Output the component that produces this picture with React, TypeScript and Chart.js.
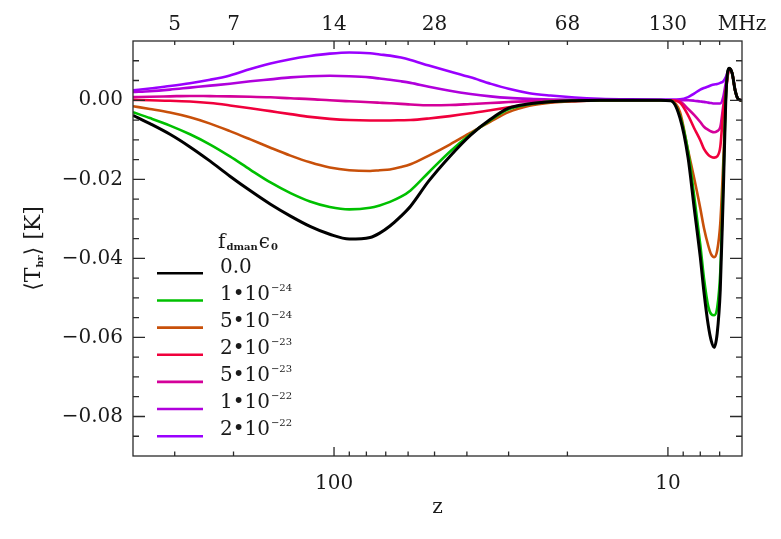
import React, { useEffect, useRef } from 'react';
import { Chart, registerables } from 'chart.js';

Chart.register(...registerables);

const FONT = '"DejaVu Serif", "Liberation Serif", serif';
const TEXT = '#1a1a1a';

// redshift sample points (x axis, log scale, reversed)
const zValues = [
  400, 356, 310, 270, 235, 205, 178, 155, 135, 118,
  103, 90, 78, 73, 68, 63, 59, 52, 45, 39, 34, 30,
  26, 22.5, 19, 16, 13, 10.5, 9.8, 9.2, 8.7, 8.35,
  8.0, 7.8, 7.57, 7.42, 7.27, 7.12, 6.97, 6.83, 6.69, 6.55,
  6.42, 6.29, 6.16, 6.0,
];

// <T_br> in mK for each f_dman*eps_0
const tbr_0 = [
  -3.8, -5.9, -8.6, -11.8, -15.4, -19.2, -22.9, -26.3, -29.3, -31.9,
  -33.9, -35.1, -34.7, -33.6, -31.8, -29.3, -26.8, -20.4, -14.2, -8.8, -4.8, -2.0,
  -0.9, -0.35, -0.1, 0, 0, 0, -0.1, -4.5, -14.6, -27,
  -39.7, -48.5, -57, -60.8, -62.5, -59, -48, -24, 2.5, 8.1,
  6.8, 2.5, 0.3, 0,
];
const tbr_1e24 = [
  -3.0, -4.5, -6.4, -8.6, -11.2, -14.2, -17.6, -20.8, -23.5, -25.6,
  -27.0, -27.6, -27.2, -26.6, -25.7, -24.4, -22.8, -18.2, -13.0, -8.6, -5.0, -2.3,
  -1.0, -0.35, -0.1, 0, 0, 0, -0.1, -4.0, -13, -24,
  -36.5, -45, -52.2, -54.1, -54.4, -52.5, -43.5, -21, 2.5, 8.1,
  6.8, 2.5, 0.3, 0,
];
const tbr_5e24 = [
  -1.5, -2.2, -3.1, -4.3, -5.9, -7.8, -9.9, -12.0, -14.0, -15.7,
  -17.0, -17.7, -17.9, -17.7, -17.5, -16.9, -16.2, -14.0, -11.2, -8.2, -5.4, -3.0,
  -1.4, -0.6, -0.2, -0.1, 0, 0, -0.1, -3.0, -12.7, -19.6,
  -27.3, -32.3, -36.8, -39, -39.7, -38, -31.2, -16, 2.7, 8.1,
  6.8, 2.5, 0.3, 0,
];
const tbr_2e23 = [
  0.1, 0, -0.1, -0.3, -0.7, -1.3, -2.0, -2.75, -3.5, -4.2,
  -4.7, -5.0, -5.1, -5.1, -5.1, -5.05, -5.0, -4.6, -4.0, -3.3, -2.5, -1.8,
  -1.1, -0.5, -0.2, -0.05, 0, 0, 0, -0.6, -3.8, -7.0,
  -10.1, -12.3, -13.8, -14.3, -14.5, -14.2, -11.8, -3, 3, 8.1,
  6.8, 2.5, 0.3, 0,
];
const tbr_5e23 = [
  0.8, 0.9, 1.0, 1.1, 1.05, 1.0, 0.9, 0.75, 0.5, 0.3,
  0, -0.25, -0.5, -0.62, -0.75, -0.9, -1.05, -1.25, -1.2, -0.95, -0.7, -0.45,
  -0.2, -0.05, 0, 0, 0, 0, 0, -0.3, -2.2, -3.7,
  -5.5, -6.7, -7.5, -7.9, -8.1, -7.8, -6.8, -1.5, 3.5, 8.1,
  6.8, 2.5, 0.3, 0,
];
const tbr_1e22 = [
  2.1, 2.3, 2.7, 3.2, 3.7, 4.2, 4.8, 5.3, 5.8, 6.1,
  6.2, 6.1, 5.8, 5.5, 5.2, 4.8, 4.4, 3.4, 2.4, 1.6, 1.0, 0.6,
  0.35, 0.2, 0.1, 0.05, 0, 0, 0, 0, 0, -0.1,
  -0.3, -0.4, -0.6, -0.7, -0.8, -0.8, -0.8, 0.8, 5, 8.1,
  6.8, 2.5, 0.3, 0,
];
const tbr_2e22 = [
  2.5, 3.0, 3.6, 4.3, 5.2, 6.3, 7.9, 9.3, 10.4, 11.2,
  11.8, 12.1, 11.9, 11.6, 11.3, 10.8, 10.2, 8.8, 7.3, 5.8, 4.2, 2.9,
  1.8, 1.2, 0.7, 0.4, 0.25, 0.2, 0.2, 0.25, 0.8, 1.7,
  2.7, 3.1, 3.5, 3.8, 4.0, 4.1, 4.4, 4.8, 6.1, 8.1,
  6.8, 2.5, 0.3, 0,
];

const seriesData = [tbr_0, tbr_1e24, tbr_5e24, tbr_2e23, tbr_5e23, tbr_1e22, tbr_2e22];
const seriesLabels = ['0.0', '1•10', '5•10', '2•10', '5•10', '1•10', '2•10'];
const seriesExponents = ['', '−24', '−24', '−23', '−23', '−22', '−22'];
const seriesColors = ['#000000', '#00c000', '#c8500a', '#f0003c', '#d4009a', '#b000dc', '#9a00ff'];

const bottomTickValues = [100, 10];
const bottomTickLabels = ['100', '10'];
const topTickValues = [300, 200, 100, 50, 20, 10, 6];
const topTickLabels = ['5', '7', '14', '28', '68', '130', 'MHz'];
const zTickMarks = [300, 200, 100, 90, 80, 70, 60, 50, 40, 30, 20, 10, 9, 8, 7];
const zMajorMarks = [100, 10];
const yTickValues = [-0.08, -0.06, -0.04, -0.02, 0];

const decorPlugin = {
  id: 'decor',
  afterDraw(chart: any) {
    const { ctx, chartArea: a, scales } = chart;
    const xs = scales.x;
    const ys = scales.y;
    ctx.save();
    // frame
    ctx.strokeStyle = '#2a2a2a';
    ctx.lineWidth = 1.3;
    ctx.strokeRect(a.left, a.top, a.right - a.left, a.bottom - a.top);
    ctx.beginPath();
    for (const z of zTickMarks) {
      const px = xs.getPixelForValue(z);
      const major = zMajorMarks.includes(z);
      ctx.moveTo(px, a.bottom);
      ctx.lineTo(px, a.bottom - (major ? 9 : 4.5));
      ctx.moveTo(px, a.top);
      ctx.lineTo(px, a.top + (major ? 8 : 4));
    }
    for (let k = -17; k <= 2; k++) {
      const py = ys.getPixelForValue(k * 0.005);
      const len = k % 4 === 0 ? 12 : 6;
      ctx.moveTo(a.left, py);
      ctx.lineTo(a.left + len, py);
      ctx.moveTo(a.right, py);
      ctx.lineTo(a.right - len, py);
    }
    ctx.stroke();

    // y-axis title <T_br> [K]
    ctx.save();
    ctx.translate(33, (a.top + a.bottom) / 2);
    ctx.rotate(-Math.PI / 2);
    ctx.fillStyle = TEXT;
    ctx.textBaseline = 'alphabetic';
    const parts = [
      { t: '⟨T', f: `22px ${FONT}`, dy: 7 },
      { t: 'br', f: `bold 10px ${FONT}`, dy: 10 },
      { t: '⟩ [K]', f: `22px ${FONT}`, dy: 7 },
    ];
    let total = 0;
    for (const p of parts) { ctx.font = p.f; total += ctx.measureText(p.t).width; }
    let cx = -total / 2;
    for (const p of parts) {
      ctx.font = p.f;
      ctx.fillText(p.t, cx, p.dy);
      cx += ctx.measureText(p.t).width;
    }
    ctx.restore();

    // legend
    const lx0 = a.left + 24;
    const lx1 = a.left + 70;
    const tx = a.left + 87;
    const row0 = a.top + 232.3;
    const step = 27.15;
    ctx.fillStyle = TEXT;
    let x = tx - 2;
    const base = a.top + 207;
    ctx.textBaseline = 'alphabetic';
    const tparts = [
      { t: 'f', f: `20px ${FONT}`, dy: 0 },
      { t: 'dman', f: `bold 10px ${FONT}`, dy: 2 },
      { t: 'ϵ', f: `20px ${FONT}`, dy: 0 },
      { t: '0', f: `bold 10px ${FONT}`, dy: 2 },
    ];
    for (const p of tparts) {
      ctx.font = p.f;
      ctx.fillText(p.t, x, base + p.dy);
      x += ctx.measureText(p.t).width + 1;
    }
    chart.data.datasets.forEach((ds: any, i: number) => {
      const ly = row0 + i * step;
      ctx.strokeStyle = ds.borderColor;
      ctx.lineWidth = 2.6;
      ctx.beginPath();
      ctx.moveTo(lx0, ly);
      ctx.lineTo(lx1, ly);
      ctx.stroke();
      ctx.textBaseline = 'middle';
      ctx.font = `20px ${FONT}`;
      ctx.fillText(seriesLabels[i], tx, ly - 6);
      const w = ctx.measureText(seriesLabels[i]).width;
      if (seriesExponents[i]) {
        ctx.font = `10px ${FONT}`;
        ctx.fillText(seriesExponents[i], tx + w + 1, ly - 12.5);
      }
    });
    ctx.restore();
  },
};

export default function App() {
  const ref = useRef<HTMLCanvasElement>(null);
  useEffect(() => {
    const canvas = ref.current;
    if (!canvas) return;
    const tickFont = { family: FONT, size: 20 };
    const chart = new Chart(canvas, {
      type: 'line',
      data: {
        datasets: seriesData.map((s, i) => ({
          label: seriesLabels[i] + seriesExponents[i],
          data: zValues.map((z, j) => ({ x: z, y: s[j] / 1000 })),
          borderColor: seriesColors[i],
          backgroundColor: seriesColors[i],
          borderWidth: i === 0 ? 3 : 2.6,
          pointRadius: 0,
          fill: false,
          cubicInterpolationMode: 'monotone' as const,
        })),
      },
      options: {
        responsive: false,
        animation: false,
        devicePixelRatio: 1,
        layout: { padding: { left: 0, right: 39, top: 0, bottom: 0 } },
        plugins: { legend: { display: false }, tooltip: { enabled: false } },
        scales: {
          x: {
            type: 'logarithmic',
            position: 'bottom',
            reverse: true,
            min: 6,
            max: 400,
            grid: { display: false, drawTicks: false },
            border: { display: false },
            afterBuildTicks: (s: any) => { s.ticks = bottomTickValues.map((v) => ({ value: v })); },
            afterFit: (s: any) => { s.height = 83; },
            ticks: {
              autoSkip: false,
              maxRotation: 0,
              padding: 16,
              color: TEXT,
              font: tickFont,
              callback: (v: any) => bottomTickLabels[bottomTickValues.indexOf(Number(v))] ?? '',
            },
            title: { display: true, text: 'z', color: TEXT, font: tickFont, padding: { top: 0, bottom: 19 } },
          },
          x2: {
            type: 'logarithmic',
            position: 'top',
            reverse: true,
            min: 6,
            max: 400,
            grid: { display: false, drawTicks: false },
            border: { display: false },
            afterBuildTicks: (s: any) => { s.ticks = topTickValues.map((v) => ({ value: v })); },
            afterFit: (s: any) => { s.height = 41; },
            ticks: {
              autoSkip: false,
              maxRotation: 0,
              padding: 4.5,
              color: TEXT,
              font: tickFont,
              callback: (v: any) => topTickLabels[topTickValues.indexOf(Number(v))] ?? '',
            },
          },
          y: {
            type: 'linear',
            position: 'left',
            min: -0.09,
            max: 0.015,
            grid: { display: false, drawTicks: false },
            border: { display: false },
            afterBuildTicks: (s: any) => { s.ticks = yTickValues.map((v) => ({ value: v })); },
            afterFit: (s: any) => { s.width = 133; },
            ticks: {
              padding: 10,
              color: TEXT,
              font: tickFont,
              callback: (v: any) => {
                const n = Number(v);
                return n === 0 ? '0.00' : '−' + Math.abs(n).toFixed(2);
              },
            },
          },
        },
      } as any,
      plugins: [decorPlugin],
    });
    return () => chart.destroy();
  }, []);
  return (
    <div style={{ position: 'absolute', left: 0, top: 0, width: 781, height: 539, background: '#fff' }}>
      <canvas ref={ref} width={781} height={539} style={{ width: 781, height: 539, display: 'block' }} />
    </div>
  );
}
